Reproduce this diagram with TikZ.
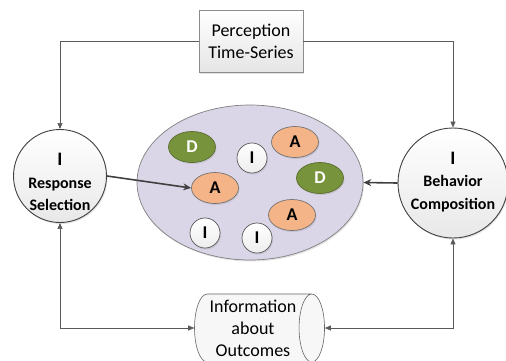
\documentclass[tikz,border=0pt]{standalone}
\usepackage{fontspec}
\setmainfont{Carlito}
\usetikzlibrary{arrows.meta,shapes.geometric,shadows}
\definecolor{ink}{HTML}{404040}
\definecolor{wire}{HTML}{5A5A5A}
\definecolor{olive}{HTML}{77933C}
\definecolor{peach}{HTML}{F5B487}
\definecolor{lilac}{HTML}{DAD5E7}
\newcommand{\bigI}{{\fontsize{19}{22.5}\selectfont I}}
\tikzset{softshadow/.style={drop shadow={opacity=.22,shadow xshift=1pt,shadow yshift=-1.5pt}}, agent/.style={circle,draw=ink,line width=.9pt,top color=white,bottom color=black!9,inner sep=0pt,softshadow}, agenttext/.style={align=center,inner sep=0pt,font=\fontsize{16}{22.5}\selectfont\bfseries}, pool/.style={ellipse,draw=black!50,fill=lilac,line width=.7pt,minimum width=226pt,minimum height=155pt,softshadow}, token/.style={ellipse,line width=.7pt,inner sep=0pt,minimum width=47pt,minimum height=31pt,font=\fontsize{18}{18}\selectfont\bfseries,softshadow}, dtoken/.style={token,draw=olive!75!black,fill=olive,text=white}, atoken/.style={token,draw=black!55,fill=peach}, itoken/.style={token,circle,draw=black!65,top color=white,bottom color=black!7,minimum width=30pt,minimum height=30pt}, databox/.style={draw=black!45,top color=white,bottom color=black!10,minimum width=104pt,minimum height=62pt,inner sep=0pt,align=center,font=\fontsize{18}{22}\selectfont,softshadow}, store/.style={cylinder,draw=black!60,fill=black!3,line width=.6pt,aspect=.45,minimum width=68pt,minimum height=130pt,inner sep=0pt,align=center,font=\fontsize{18}{22}\selectfont}, link/.style={draw=wire,line width=.6pt,-{Triangle[length=6pt,width=5pt]}}, heavylink/.style={draw=ink,line width=1.6pt,-{Stealth[length=8pt,width=7pt]}}}
\begin{document}
\begin{tikzpicture}[x=1pt,y=-1pt]
\useasboundingbox (0,0) rectangle (506,360);
\node[databox] (percep) at (251,41) {Perception\\Time-Series};
\node[agent,minimum size=93pt] (resp) at (60,176) {};
\node[agenttext] (resplabel) at (60,182) {\bigI\\Response\\Selection};
\node[agent,minimum size=110pt] (comp) at (453,183) {};
\node[agenttext] (complabel) at (453,182) {\bigI\\Behavior\\Composition};
\node[pool] (pool) at (250,182.5) {};
\foreach \n/\x/\y/\s/\t in {d1/192/147/dtoken/D, i1/252/158/itoken/I, a2/295/142/atoken/A, d2/320/178/dtoken/D, a1/215/188/atoken/A, a3/292/215/atoken/A, i2/205/233/itoken/I, i3/257/238/itoken/I}
 \node[\s] (\n) at (\x,\y) {\t};
\node[store] (info) at (253,328) {Information\\about\\Outcomes};
\draw[link] (percep.west) -| (resp.north);
\draw[link] (percep.east) -| (comp.north);
\draw[link,{Triangle[length=6pt,width=5pt]}-{Triangle[length=6pt,width=5pt]}] (resp.south) |- (info.west);
\draw[link,{Triangle[length=6pt,width=5pt]}-{Triangle[length=6pt,width=5pt]}] (comp.south) |- (info.east);
\draw[heavylink] (resp.east) -- (a1.west);
\draw[heavylink] (comp.west) -- (pool.east);
\end{tikzpicture}
\end{document}
